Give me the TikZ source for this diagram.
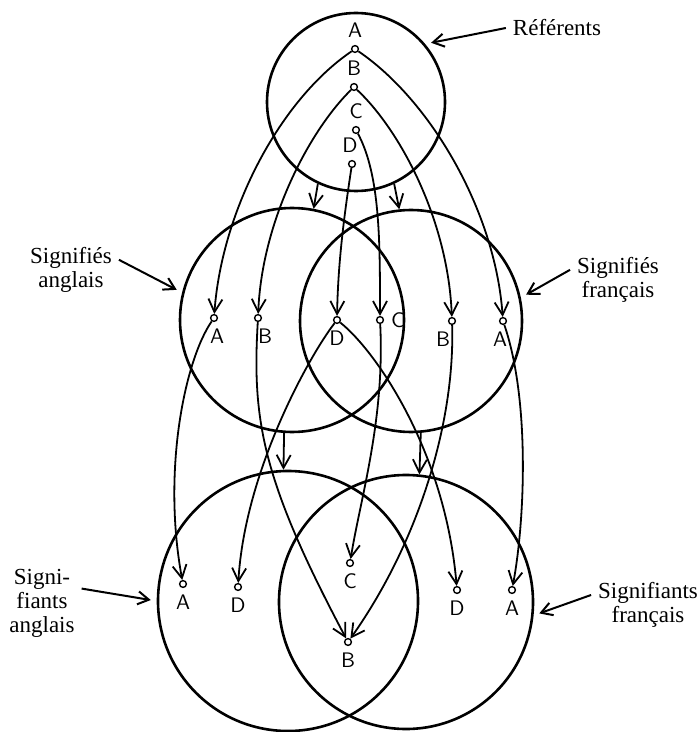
\documentclass[tikz,border=0pt]{standalone}
\usepackage{fontspec}
\setmainfont{Liberation Serif}
\usetikzlibrary{arrows.meta}
\tikzstyle{cnode} = [circle, draw, inner sep = 0pt, line width = 1.3pt]
\tikzstyle{pnode} = [circle, draw, inner sep = 0pt, minimum size = 3.4pt, line width = 0.7pt]
\tikzstyle{tnode} = [align = center, font = \fontsize{11.5}{12}\selectfont]
\tikzstyle{every label} = [font = \sffamily\fontsize{10.5}{12}\selectfont]
\tikzstyle{line} = [draw, line width = 0.9pt, -{Straight Barb[length=6.5pt, width=7pt]}]
\tikzstyle{pointer} = [draw, line width = 1pt, -{Straight Barb[length=5.5pt, width=6.5pt]}, shorten >= 3pt]

\begin{document}
\begin{tikzpicture}[x=0.5pt, y=-0.5pt]
			\useasboundingbox (0,0) rectangle (699,732);

			% ensembles
			\node [cnode, minimum size = 89pt] (ref) at (356,102) {};
			\node [cnode, minimum size = 112pt] (sen) at (292,320) {};
			\node [cnode, minimum size = 111pt] (sfr) at (411,321) {};
			\node [cnode, minimum size = 130pt] (ben) at (288,601) {};
			\node [cnode, minimum size = 127pt] (bfr) at (406,602) {};

			% referents
			\node [pnode, label=above:{A}] (tA) at (355,49) {};
			\node [pnode, label=above:{B}] (tB) at (354,87) {};
			\node [pnode, label=above:{C}] (tC) at (356,130) {};
			\node [pnode, label={[xshift=-1pt]above:{D}}] (tD) at (352,164) {};

			% signifies
			\node [pnode, label={[xshift=1.5pt]below:{A}}] (eA) at (214,318) {};
			\node [pnode, label={[xshift=3.5pt]below:{B}}] (eB) at (258,318) {};
			\node [pnode, label=below:{D}] (eD) at (337,320) {};
			\node [pnode, label=right:{C}] (fC) at (380,320) {};
			\node [pnode, label={[xshift=-4.5pt]below:{B}}] (fB) at (452,321) {};
			\node [pnode, label={[xshift=-1.5pt]below:{A}}] (fA) at (503,321) {};

			% signifiants
			\node [pnode, label=below:{A}] (aA) at (183,584) {};
			\node [pnode, label=below:{D}] (aD) at (238,587) {};
			\node [pnode, label=below:{C}] (sC) at (350,563) {};
			\node [pnode, label=below:{B}] (sB) at (348,642) {};
			\node [pnode, label=below:{D}] (sD) at (457,590) {};
			\node [pnode, label=below:{A}] (sA) at (512,590) {};

			% textes
			\node [tnode] (lref) at (557,28) {Référents};
			\node [tnode] (lsen) at (71,270) {Signifiés\\anglais};
			\node [tnode] (lsfr) at (618,280) {Signifiés\\français};
			\node [tnode] (lben) at (42,603) {Signi-\\fiants\\anglais};
			\node [tnode] (lbfr) at (648,605) {Signifiants\\français};

			\path [pointer] (lref.west) -- (ref.40);
			\path [pointer] (lsen.12) -- (sen.166);
			\path [pointer] (lsfr.168) -- (sfr.12);
			\path [pointer] (lben.20) -- (ben.180);
			\path [pointer] (lbfr.170) -- (bfr.-6);

			% entre ensembles
			\path [line] (ref.-115) -- (sen.79);
			\path [line] (ref.-65) -- (sfr.96);
			\path [line] (sen.-94) -- (ben.92);
			\path [line] (sfr.-85) -- (bfr.84);

			\path [line] (tA) .. controls (280,100) and (222,210) .. (eA);
			\path [line] (tA) .. controls (430,100) and (495,210) .. (fA);
			\path [line] (tB) .. controls (310,130) and (262,220) .. (eB);
			\path [line] (tB) .. controls (400,130) and (448,220) .. (fB);
			\path [line] (tC) .. controls (380,175) and (380,240) .. (fC);
			\path [line] (tD) .. controls (345,210) and (338,260) .. (eD);

			\path [line] (eA) .. controls (185,360) and (162,470) .. (aA);
			\path [line] (eB) .. controls (252,420) and (262,480) .. (sB);
			\path [line] (eD) .. controls (310,355) and (245,470) .. (aD);
			\path [line] (eD) .. controls (375,350) and (445,450) .. (sD);
			\path [line] (fC) .. controls (385,420) and (360,500) .. (sC);
			\path [line] (fB) .. controls (455,420) and (420,540) .. (sB);
			\path [line] (fA) .. controls (530,400) and (525,520) .. (sA);
		\end{tikzpicture}
\end{document}
